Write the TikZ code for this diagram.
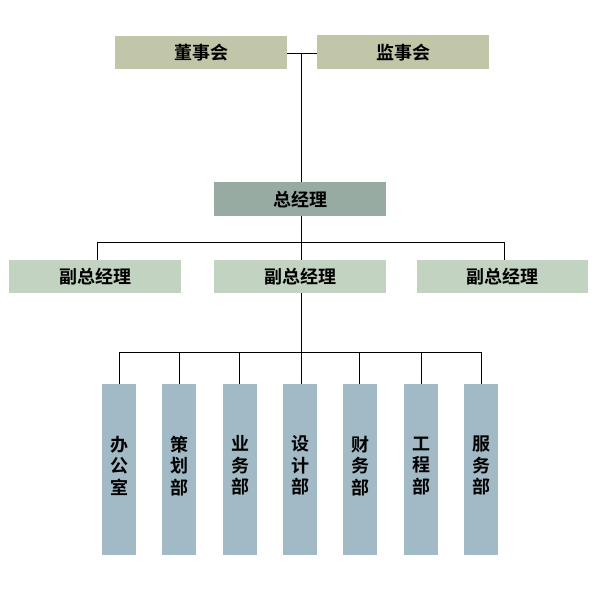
\documentclass[tikz,border=0pt]{standalone}
\usepackage{fontspec}
\newfontfamily\cjk{Noto Sans CJK SC Bold}
\definecolor{topc}{HTML}{C1C6A8}
\definecolor{gmc}{HTML}{98ABA3}
\definecolor{vgmc}{HTML}{C3D3C1}
\definecolor{depc}{HTML}{A2BAC6}
\begin{document}
\begin{tikzpicture}[x=1pt,y=-1pt,
  box/.style={draw=none,inner sep=0pt,anchor=north west,font=\cjk\fontsize{18}{20}\selectfont},
  link/.style={draw=black,line width=1pt},
  dep/.style={box,fill=depc,minimum width=34pt,minimum height=171pt},
  deptext/.style={align=center,inner sep=0pt,font=\cjk\fontsize{18}{21.5}\selectfont}]
\useasboundingbox (0,0) rectangle (600,600);
\node[box,fill=topc,minimum width=172pt,minimum height=33pt] (dsh) at (115,36) {董事会};
\node[box,fill=topc,minimum width=172pt,minimum height=34pt] (jsh) at (317,35) {监事会};
\node[box,fill=gmc,minimum width=172pt,minimum height=34pt] (zjl) at (214,182) {总经理};
\node[box,fill=vgmc,minimum width=172pt,minimum height=33pt] (f1) at (9,260) {副总经理};
\node[box,fill=vgmc,minimum width=172pt,minimum height=33pt] (f2) at (214,260) {副总经理};
\node[box,fill=vgmc,minimum width=171pt,minimum height=33pt] (f3) at (417,260) {副总经理};
\coordinate (tj) at (301.5,53);
\draw[link] (dsh.east |- tj) -- (jsh.west |- tj);
\draw[link] (tj) -- (tj |- zjl.north);
\coordinate (r2) at (301.5,242);
\draw[link] (zjl.south -| tj) -- (r2);
\draw[link] (f1.north -| 97,0) -- (97,242) -- (504,242) -- (f3.north -| 504,0);
\draw[link] (r2) -- (f2.north -| r2);
\coordinate (r3) at (301.5,352);
\draw[link] (f2.south -| r3) -- (r3);
\foreach \i/\x/\t in {1/102/办\\公\\室,2/162/策\\划\\部,3/223/业\\务\\部,4/283/设\\计\\部,5/343/财\\务\\部,6/404/工\\程\\部,7/464/服\\务\\部}{
  \node[dep] (d\i) at (\x,384) {};
  \node[deptext] (t\i) at ([yshift=4pt]d\i.center) {\t};
}
\draw[link] (119.5,352) -- (481.5,352);
\foreach \i/\x in {1/119.5,2/179.5,3/239.5,4/301.5,5/359.5,6/421.5,7/481.5}{
  \draw[link] (\x,352) -- (d\i.north -| \x,0);
}
\end{tikzpicture}
\end{document}
